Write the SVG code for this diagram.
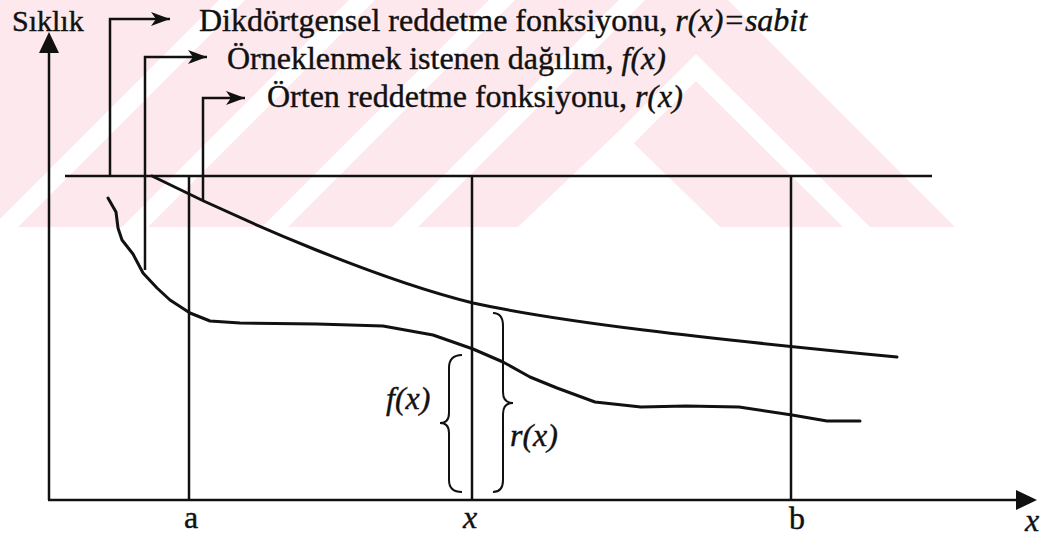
<svg xmlns="http://www.w3.org/2000/svg" width="1051" height="538" viewBox="0 0 1051 538">
<defs>
<style>
.t{font-family:"Liberation Serif","Times New Roman",serif;font-size:32px;fill:#111;stroke:#111;stroke-width:0.4}
.i{font-style:italic}
.ln{stroke:#111;stroke-width:2.5;fill:none;stroke-linecap:butt}
.cv{stroke:#111;stroke-width:3;fill:none;stroke-linejoin:round;stroke-linecap:round}
.br{stroke:#111;stroke-width:2;fill:none}
.wm{fill:#fde9ed}
.ww{fill:#ffffff}
</style>
<marker id="barb" markerUnits="userSpaceOnUse" markerWidth="22" markerHeight="16" refX="19" refY="7" orient="auto" viewBox="0 0 22 16">
<path d="M19,7 L0,0 L5,7 L0,14 Z" fill="#111"/>
</marker>
</defs>
<rect width="1051" height="538" fill="#fff"/>
<g id="watermark">
<polygon class="wm" points="0,0 728,0 955,227 0,227"/>
<polygon class="ww" points="-8,227 18,227 245,0 219,0"/>
<polygon class="ww" points="122,227 148,227 375,0 349,0"/>
<polygon class="ww" points="262,227 288,227 515,0 489,0"/>
<polygon class="ww" points="392,227 418,227 645,0 619,0"/>
<polygon class="ww" points="696,54 870,227 523,227"/>
<polygon class="wm" points="696,81 843,227 550,227"/>
<polygon class="ww" points="620,130 720,227 518,227"/>
</g>
<g id="axes">
<line class="ln" x1="49" y1="500" x2="49" y2="50"/>
<polygon points="49,32 39,53 59,53" fill="#111"/>
<line class="ln" x1="48" y1="500" x2="1020" y2="500"/>
<polygon points="1037,500 1016,490 1016,510" fill="#111"/>
</g>
<g id="guides">
<line class="ln" x1="65" y1="176" x2="932" y2="176"/>
<line class="ln" x1="189" y1="176" x2="189" y2="500"/>
<line class="ln" x1="472" y1="176" x2="472" y2="500"/>
<line class="ln" x1="791" y1="176" x2="791" y2="500"/>
</g>
<g id="curves">
<path id="r-curve" class="cv" d="M152,176 C250,225 380,280 473,303 C560,322 700,338 897,357"/>
<path id="f-curve" class="cv" d="M108,198 L116,212 L118,228 L122,240 L133,254 L143,273 L157,288 L170,300 L190,313 L210,321 L240,323 L317,324 L383,326 L433,335 L473,349 L503,362 L530,377 L557,388 L595,402 L641,407 L686,406 L739,407 L792,415 L827,421 L860,421"/>
</g>
<g id="connectors">
<path class="ln" d="M110,176 V19 H170" marker-end="url(#barb)"/>
<path class="ln" d="M145,270 V57 H207" marker-end="url(#barb)"/>
<path class="ln" d="M203,200 V98 H245" marker-end="url(#barb)"/>
</g>
<g id="braces">
<path class="br" d="M462,355 Q449,355 449,368 L449,413 Q449,423 440,423 Q449,423 449,433 L449,480 Q449,492 462,492"/>
<path class="br" d="M493,313 Q503,313 503,326 L503,392 Q503,403 513,403 Q503,403 503,414 L503,480 Q503,492 493,492"/>
</g>
<g id="legend">
<g id="legend-rect"><text class="t" x="199" y="31">Dikdörtgensel reddetme fonksiyonu, <tspan class="i">r(x)=sabit</tspan></text></g>
<g id="legend-f"><text class="t" x="227" y="69">Örneklenmek istenen dağılım, <tspan class="i">f(x)</tspan></text></g>
<g id="legend-r"><text class="t" x="267" y="107">Örten reddetme fonksiyonu, <tspan class="i">r(x)</tspan></text></g>
</g>
<g id="labels">
<text class="t" x="12" y="31" style="font-size:30px">Sıklık</text>
<text class="t i" x="386" y="409">f(x)</text>
<text class="t i" x="510" y="446">r(x)</text>
<text class="t" x="191" y="528" text-anchor="middle">a</text>
<text class="t i" x="470" y="528" text-anchor="middle">x</text>
<text class="t" x="797" y="529" text-anchor="middle">b</text>
<text class="t i" x="1032" y="531" text-anchor="middle">x</text>
</g>
</svg>
